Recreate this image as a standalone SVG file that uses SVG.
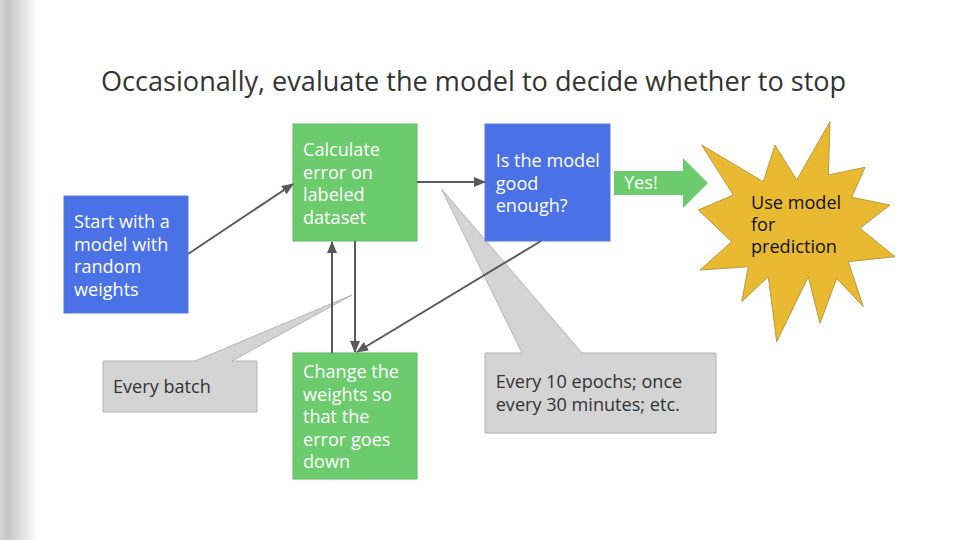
<svg xmlns="http://www.w3.org/2000/svg" width="960" height="540" viewBox="0 0 960 540">
  <defs>
    <linearGradient id="edge" x1="0" y1="0" x2="1" y2="0">
      <stop offset="0" stop-color="#d4d4d4"/>
      <stop offset="0.2" stop-color="#c6c6c6"/>
      <stop offset="1" stop-color="#ffffff"/>
    </linearGradient>
    <marker id="arr" viewBox="0 0 12 10" refX="11" refY="5" markerWidth="12" markerHeight="10" markerUnits="userSpaceOnUse" orient="auto">
      <path d="M0,0 L12,5 L0,10 Z" fill="#595959"/>
    </marker>
    <style>
      text { font-family: "Open Sans", Roboto, "Liberation Sans", sans-serif; }
      .title { font-size: 27.1px; fill: #333333; }
      .wt { font-size: 18.1px; fill: #ffffff; }
      .dt { font-size: 18.1px; fill: #333333; }
      .bt { font-size: 18.1px; fill: #111111; }
      .blue { fill: #4a71e5; stroke: #5a7bd8; stroke-width: 1; }
      .green { fill: #6ccb6c; stroke: #62b862; stroke-width: 1; }
      .callout { fill: #d4d4d4; stroke: #b4b4b4; stroke-width: 1; }
      .conn { stroke: #595959; stroke-width: 2; fill: none; marker-end: url(#arr); }
    </style>
  </defs>

  <rect x="0" y="0" width="960" height="540" fill="#ffffff"/>
  <rect x="0" y="0" width="38" height="540" fill="url(#edge)"/>

  <text class="title" x="101" y="91">Occasionally, evaluate the model to decide whether to stop</text>

  <g id="callout-batch">
    <path class="callout" d="M103,361 H195 L352,295 L232,361 H257 V412 H103 Z"/>
    <text class="dt" x="113" y="393">Every batch</text>
  </g>

  <g id="callout-epochs">
    <path class="callout" d="M485,353 H522 L441.7,189.3 L582,353 H716 V433 H485 Z"/>
    <text class="dt" x="495.7" y="388">Every 10 epochs; once</text>
    <text class="dt" x="495.7" y="410.5">every 30 minutes; etc.</text>
  </g>

  <g id="start">
    <rect class="blue" x="64" y="196" width="124" height="117"/>
    <text class="wt" x="74" y="228">Start with a</text>
    <text class="wt" x="74" y="250.5">model with</text>
    <text class="wt" x="74" y="273">random</text>
    <text class="wt" x="74" y="295.5">weights</text>
  </g>

  <g id="calculate">
    <rect class="green" x="293" y="124" width="124" height="117"/>
    <text class="wt" x="303" y="156">Calculate</text>
    <text class="wt" x="303" y="178.5">error on</text>
    <text class="wt" x="303" y="201">labeled</text>
    <text class="wt" x="303" y="223.5">dataset</text>
  </g>

  <g id="change">
    <rect class="green" x="293" y="353" width="124" height="126"/>
    <text class="wt" x="303" y="378">Change the</text>
    <text class="wt" x="303" y="400.5">weights so</text>
    <text class="wt" x="303" y="423">that the</text>
    <text class="wt" x="303" y="445.5">error goes</text>
    <text class="wt" x="303" y="468">down</text>
  </g>

  <g id="good-enough">
    <rect class="blue" x="485" y="124" width="125" height="117"/>
    <text class="wt" x="495.7" y="167">Is the model</text>
    <text class="wt" x="495.7" y="189.5">good</text>
    <text class="wt" x="495.7" y="212">enough?</text>
  </g>

  <g id="yes">
    <path d="M614,171 H683 V158 L708,183 L683,208 V195 H614 Z" fill="#6ccb6c"/>
    <text class="wt" x="624" y="189">Yes!</text>
  </g>

  <g id="use-model">
    <path d="M830,121.7 L828.3,175 L865,167.3 L851.7,197.3 L890,205 L860,228.3 L895,256.7 L848.3,261.7 L863.3,306.7 L836.7,278.3 L820,323.3 L808.3,276.7 L776.7,341.7 L768.3,276.7 L741.7,301.7 L748.3,266.7 L700,270 L731.7,241.7 L698.3,210 L733.3,195 L701.7,145 L763.3,181.7 L775,145 L796.7,180 Z" fill="#e9b931" stroke="#b99a3c" stroke-width="1"/>
    <text class="bt" x="751" y="209">Use model</text>
    <text class="bt" x="751" y="231">for</text>
    <text class="bt" x="751" y="253">prediction</text>
  </g>

  <g id="connectors">
    <line class="conn" x1="188" y1="254" x2="293" y2="184"/>
    <line class="conn" x1="417" y1="182" x2="485" y2="182"/>
    <line class="conn" x1="332" y1="353" x2="332" y2="242"/>
    <line class="conn" x1="355" y1="241" x2="355" y2="352"/>
    <line class="conn" x1="541" y1="241" x2="357" y2="352"/>
  </g>
</svg>
